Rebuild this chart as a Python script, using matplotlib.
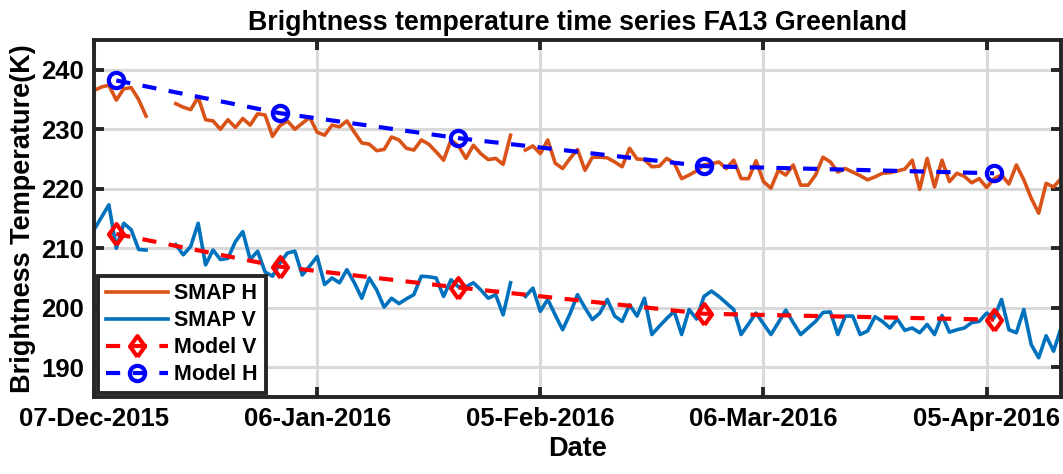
import numpy as np
import pandas as pd
import matplotlib
matplotlib.use("Agg")
import matplotlib.pyplot as plt
import matplotlib.dates as mdates

nan = np.nan

# daily SMAP brightness temperatures (K), starting 07-Dec-2015
start = "2015-12-07"
smap_h = [236.5, 237.1, 237.4, 234.9, 236.8, 237.0, 235.0, 232.2, nan, nan,
          nan, 234.3, 233.7, 233.3, 235.4, 231.6, 231.4, 230.0, 231.6, 230.3,
          231.8, 230.7, 232.6, 232.4, 228.8, 230.6, 231.4, 230.0, 231.0, 232.0,
          229.5, 229.0, 230.7, 230.4, 231.4, 229.5, 227.7, 227.5, 226.4, 226.6,
          228.7, 228.2, 226.8, 226.5, 228.2, 227.5, 226.2, 224.8, 228.2, 227.2,
          225.1, 227.3, 225.9, 224.9, 225.1, 224.1, 229.0, nan, 226.5, 227.2,
          225.9, 228.2, 224.3, 223.4, 225.1, 226.6, 223.1, 225.3, 225.3, 225.2,
          224.5, 223.7, 226.8, 225.0, 224.9, 223.7, 223.8, 225.1, 224.3, 221.7,
          222.3, 223.0, 224.0, 224.2, 224.5, 223.4, 224.8, 221.7, 221.7, 224.7,
          221.2, 220.1, 223.1, 222.3, 224.0, 220.6, 220.6, 222.3, 225.3, 224.5,
          222.8, 223.4, 222.8, 222.2, 221.5, 222.0, 222.6, 222.7, 223.0, 223.3,
          224.8, 219.9, 225.1, 220.3, 224.8, 221.2, 222.6, 222.1, 221.0, 221.7,
          220.2, 221.7, 222.3, 220.8, 224.0, 221.5, 218.4, 215.9, 220.9, 220.3,
          221.7]
smap_v = [213.1, 215.2, 217.3, 210.0, 214.2, 213.1, 209.8, 209.7, nan, nan,
          nan, 210.6, 208.9, 210.3, 214.2, 207.2, 209.7, 208.1, 208.3, 211.1,
          212.8, 208.1, 209.5, 206.0, 205.3, 207.5, 209.2, 209.5, 205.5, 207.0,
          208.6, 203.9, 205.0, 204.2, 206.4, 204.2, 201.6, 205.0, 203.0, 200.1,
          201.6, 200.7, 201.5, 202.2, 205.3, 205.2, 205.0, 201.9, 204.7, 203.5,
          203.5, 204.2, 203.0, 201.6, 202.2, 198.8, 204.2, nan, 201.9, 203.3,
          199.4, 201.4, 198.8, 196.3, 199.0, 202.2, 200.0, 198.0, 199.1, 201.4,
          198.6, 197.7, 200.5, 198.6, 201.6, 195.5, 196.9, 198.2, 199.4, 195.5,
          199.7, 198.1, 201.9, 202.8, 201.9, 200.8, 199.7, 195.5, 197.3, 199.1,
          197.3, 195.5, 197.5, 199.6, 197.5, 195.5, 196.6, 197.7, 199.2, 199.3,
          195.5, 198.6, 198.6, 195.5, 196.1, 198.5, 197.7, 196.6, 198.1, 196.2,
          196.6, 195.8, 197.2, 195.5, 198.7, 195.9, 196.3, 196.6, 197.5, 197.7,
          199.1, 198.3, 201.4, 196.3, 195.8, 199.7, 193.8, 191.6, 195.3, 192.7,
          196.6]

model_dates = ["2015-12-10", "2016-01-01", "2016-01-25", "2016-02-27", "2016-04-06"]
model_h = [238.2, 232.7, 228.5, 223.8, 222.6]
model_v = [212.4, 206.9, 203.4, 199.0, 198.0]

tick_dates = ["2015-12-07", "2016-01-06", "2016-02-05", "2016-03-06", "2016-04-05"]

dates = pd.date_range(start, periods=len(smap_h), freq="D")
mdays = pd.to_datetime(model_dates)

plt.rcParams["font.family"] = ["Liberation Sans", "DejaVu Sans"]
plt.rcParams["font.weight"] = "bold"

fig = plt.figure(figsize=(10.63, 4.74), dpi=100)
ax = fig.add_axes([94 / 1063, 1 - 397 / 474, 967 / 1063, 357 / 474])

diamond = [(0, -1), (0.72, 0), (0, 1), (-0.72, 0), (0, -1)]
dash = (0, (3.4, 3.0))

ax.plot(dates, smap_h, color="#D95319", lw=2.6, label="SMAP H")
ax.plot(dates, smap_v, color="#0072BD", lw=2.6, label="SMAP V")
ax.plot(mdays, model_v, color="red", lw=3, ls=dash, marker=diamond,
        ms=15, mfc="none", mec="red", mew=3, label="Model V")
ax.plot(mdays, model_h, color="blue", lw=3, ls=dash, marker="o",
        ms=11, mfc="none", mec="blue", mew=3, label="Model H")

ax.set_xlim(pd.Timestamp(start), pd.Timestamp(start) + pd.Timedelta(days=130))
ax.set_ylim(185, 245)
ax.set_yticks([190, 200, 210, 220, 230, 240])
ax.set_xticks(pd.to_datetime(tick_dates))
ax.xaxis.set_major_formatter(mdates.DateFormatter("%d-%b-%Y"))

ax.grid(True, color="#d9d9d9", lw=2.2)
ax.set_axisbelow(True)
for s in ax.spines.values():
    s.set_linewidth(2.8)
    s.set_color("#262626")
ax.tick_params(direction="in", length=7, width=2.8, color="#262626",
               labelsize=18.5, top=True, right=True, pad=7)
for lab in ax.get_xticklabels() + ax.get_yticklabels():
    lab.set_fontweight("bold")

ax.set_title("Brightness temperature time series FA13 Greenland",
             fontsize=19.3, fontweight="bold", pad=7)
ax.set_xlabel("Date", fontsize=19.5, fontweight="bold", labelpad=4)
ax.set_ylabel("Brightness Temperature(K)", fontsize=19.5, fontweight="bold", labelpad=4)

leg = ax.legend(loc="lower left", bbox_to_anchor=(4 / 967, 4 / 357), borderaxespad=0,
                fancybox=False, framealpha=1, edgecolor="#262626",
                prop={"size": 15.5, "weight": "bold"}, handlelength=2.9,
                labelspacing=0.28, handletextpad=0.3, borderpad=0.35)
leg.get_frame().set_linewidth(2.8)

plt.savefig("out.png", dpi=100)
